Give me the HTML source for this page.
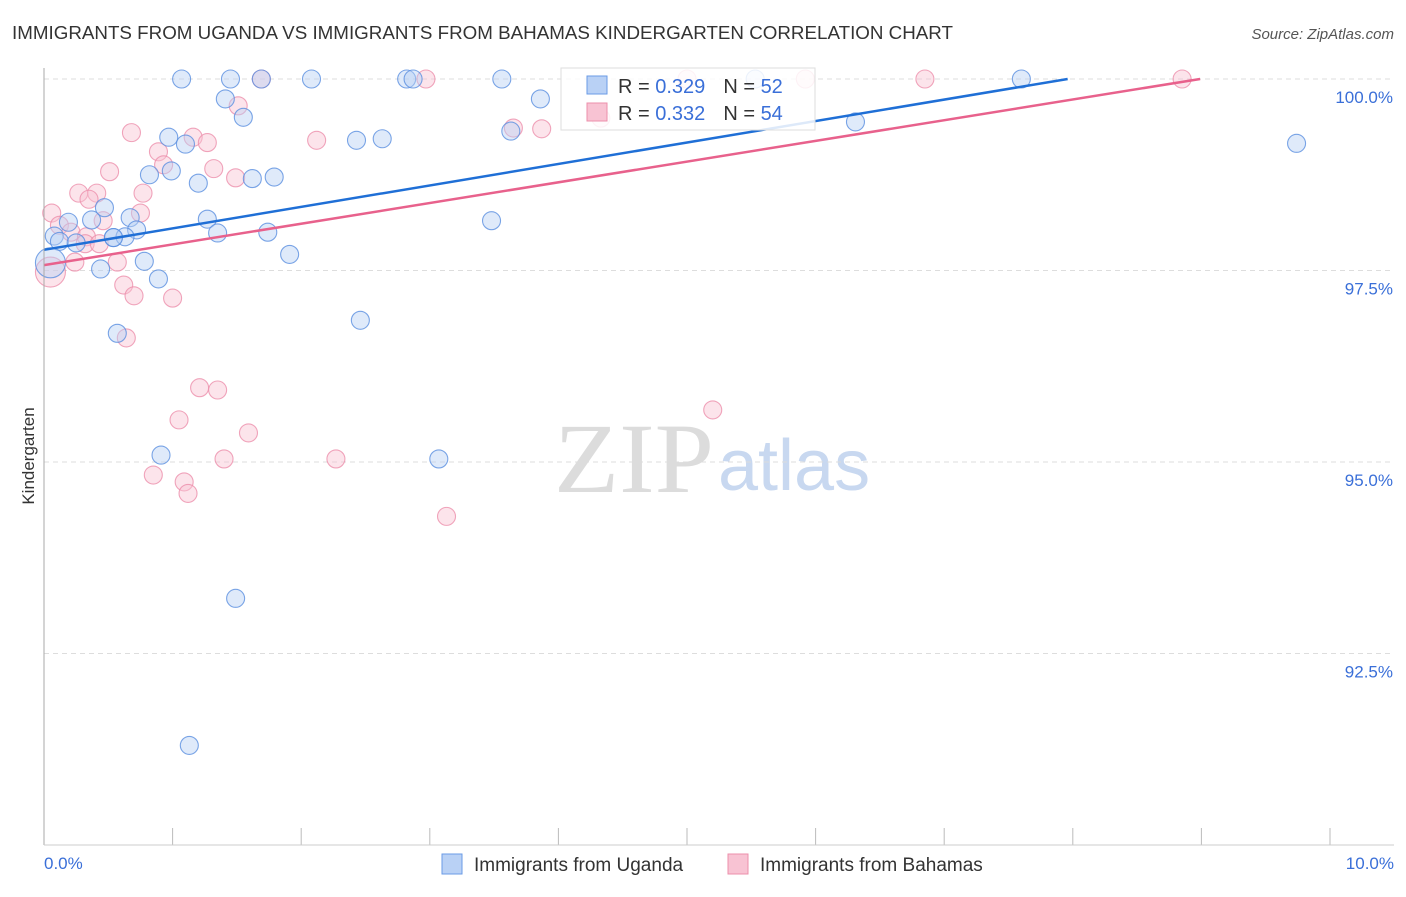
<!DOCTYPE html>
<html><head><meta charset="utf-8"><style>
body{margin:0;background:#fff;font-family:"Liberation Sans",sans-serif;}
</style></head><body>
<svg id="c" width="1406" height="892" xmlns="http://www.w3.org/2000/svg" font-family="Liberation Sans, sans-serif">
<text x="12" y="39" font-size="18" fill="#333" textLength="941" lengthAdjust="spacingAndGlyphs">IMMIGRANTS FROM UGANDA VS IMMIGRANTS FROM BAHAMAS KINDERGARTEN CORRELATION CHART</text>
<text x="1394" y="39" font-size="15" fill="#555" font-style="italic" text-anchor="end">Source: ZipAtlas.com</text>
<text x="714" y="492" font-size="100" fill="#dcdcdc" style="font-family:'Liberation Serif',serif" text-anchor="end" textLength="160" lengthAdjust="spacingAndGlyphs">ZIP</text>
<text x="718" y="490" font-size="72" fill="#c8d8f0">atlas</text>
<g id="grid"></g><g id="pts"></g><g id="lines"></g>
<line x1="44" y1="68" x2="44" y2="845" stroke="#aaa"/>
<line x1="44" y1="845" x2="1394" y2="845" stroke="#ccc"/>
<text x="34" y="456" font-size="17" fill="#333" transform="rotate(-90 34 456)" text-anchor="middle">Kindergarten</text>
<text x="44" y="869" font-size="17" fill="#3a6fd8">0.0%</text>
<text x="1394" y="869" font-size="17" fill="#3a6fd8" text-anchor="end">10.0%</text>
<g>
<rect x="561" y="68" width="254" height="62" fill="#fff" fill-opacity="0.85" stroke="#ddd"/>
<rect x="587" y="76" width="20" height="18" fill="#b9d1f5" stroke="#6a9be6"/>
<text x="618" y="93" font-size="20" fill="#333">R = <tspan fill="#3a6fd8">0.329</tspan><tspan dx="18">N = </tspan><tspan fill="#3a6fd8">52</tspan></text>
<rect x="587" y="103" width="20" height="18" fill="#f8c3d3" stroke="#ec8fab"/>
<text x="618" y="120" font-size="20" fill="#333">R = <tspan fill="#3a6fd8">0.332</tspan><tspan dx="18">N = </tspan><tspan fill="#3a6fd8">54</tspan></text>
</g>
<g><rect x="442" y="854" width="20" height="20" fill="#b9d1f5" stroke="#6a9be6"/><text x="474" y="871" font-size="19" fill="#333">Immigrants from Uganda</text></g>
<g><rect x="728" y="854" width="20" height="20" fill="#f8c3d3" stroke="#ec8fab"/><text x="760" y="871" font-size="19" fill="#333">Immigrants from Bahamas</text></g>
</svg>
<script>
const yTicks=[100,97.5,95,92.5];
const yTickLabels=["100.0%","97.5%","95.0%","92.5%"];
const xTicks=[0,1,2,3,4,5,6,7,8,9,10];
const ugandaX=[1.07,1.45,1.69,2.08,2.82,2.87,3.56,5.53,7.6,1.41,1.55,3.86,0.97,1.1,2.43,2.63,3.63,6.31,9.74,0.82,0.99,1.2,1.62,1.79,0.08,0.19,0.37,0.47,0.67,0.72,1.27,1.35,1.74,3.48,0.12,0.25,0.54,0.63,0.54,0.44,0.78,0.89,1.91,0.57,2.46,0.05,0.91,3.07,1.49,1.13];
const ugandaY=[100,100,100,100,100,100,100,100,100,99.74,99.5,99.74,99.24,99.15,99.2,99.22,99.32,99.44,99.16,98.75,98.8,98.64,98.7,98.72,97.95,98.13,98.16,98.32,98.19,98.03,98.17,97.99,98.0,98.15,97.88,97.86,97.93,97.94,97.93,97.52,97.62,97.39,97.71,96.68,96.85,97.6,95.09,95.04,93.22,91.3];
const ugandaR=[9,9,9,9,9,9,9,9,9,9,9,9,9,9,9,9,9,9,9,9,9,9,9,9,9,9,9,9,9,9,9,9,9,9,9,9,9,9,9,9,9,9,9,9,9,15,9,9,9,9];
const bahamasX=[1.69,2.97,5.0,5.92,6.85,8.85,1.51,4.33,3.65,3.87,0.68,1.16,1.27,2.12,0.89,0.93,1.32,1.49,0.51,0.27,0.41,0.77,0.35,0.75,0.06,0.46,0.12,0.21,0.33,0.32,0.43,0.24,0.57,0.05,0.62,0.7,1.0,0.64,1.21,1.35,1.05,1.59,1.4,2.27,0.85,1.09,1.12,3.13,5.2];
const bahamasY=[100,100,100,100,100,100,99.65,99.49,99.36,99.35,99.3,99.24,99.17,99.2,99.05,98.88,98.83,98.71,98.79,98.51,98.51,98.51,98.43,98.25,98.25,98.15,98.09,98.0,97.94,97.85,97.85,97.61,97.61,97.48,97.31,97.17,97.14,96.62,95.97,95.94,95.55,95.38,95.04,95.04,94.83,94.74,94.59,94.29,95.68];
const bahamasR=[9,9,9,9,9,9,9,9,9,9,9,9,9,9,9,9,9,9,9,9,9,9,9,9,9,9,9,9,9,9,9,9,9,15,9,9,9,9,9,9,9,9,9,9,9,9,9,9,9];
const ugandaTrend=[97.77,100];const ugandaTrendX=[0,7.96];
const bahamasTrend=[97.57,100];const bahamasTrendX=[0,8.99];
const X=v=>44+v*128.6, Y=v=>79+(100-v)*76.6;
const NS="http://www.w3.org/2000/svg";
function mk(t,a,p){const e=document.createElementNS(NS,t);for(const k in a)e.setAttribute(k,a[k]);p.appendChild(e);return e;}
const grid=document.getElementById('grid');
yTicks.forEach((t,i)=>{
 const l=mk('line',{x1:44,x2:1394,y1:Y(t),y2:Y(t),stroke:'#ddd','stroke-dasharray':'5,4'},grid);
 
 
 const tx=mk('text',{x:1393,y:Y(t)+24,'font-size':17,fill:'#3a6fd8','text-anchor':'end'},grid);
 tx.textContent=yTickLabels[i];
 
 
});
xTicks.forEach(t=>{
 const l=mk('line',{x1:X(t),x2:X(t),y1:828,y2:845,stroke:'#bbb'},grid);
 
 
});
const pts=document.getElementById('pts');
function series(xs,ys,rs,fill,stroke,name){
 xs.forEach((x,i)=>{
  const c=mk('circle',{cx:X(x),cy:Y(ys[i]),r:rs[i],fill:fill,'fill-opacity':0.45,stroke:stroke,'stroke-opacity':0.8,'stroke-width':1.1},pts);
  
  
 });
}
series(bahamasX,bahamasY,bahamasR,'#f8c3d3','#ec8fab','bahamas-point');
series(ugandaX,ugandaY,ugandaR,'#b9d1f5','#5a8fe0','uganda-point');
const lines=document.getElementById('lines');
const l1=mk('line',{x1:X(ugandaTrendX[0]),y1:Y(ugandaTrend[0]),x2:X(ugandaTrendX[1]),y2:Y(ugandaTrend[1]),stroke:'#1f6fd6','stroke-width':2.5},lines);


const l2=mk('line',{x1:X(bahamasTrendX[0]),y1:Y(bahamasTrend[0]),x2:X(bahamasTrendX[1]),y2:Y(bahamasTrend[1]),stroke:'#e8618c','stroke-width':2.5},lines);


</script>
</body></html>
